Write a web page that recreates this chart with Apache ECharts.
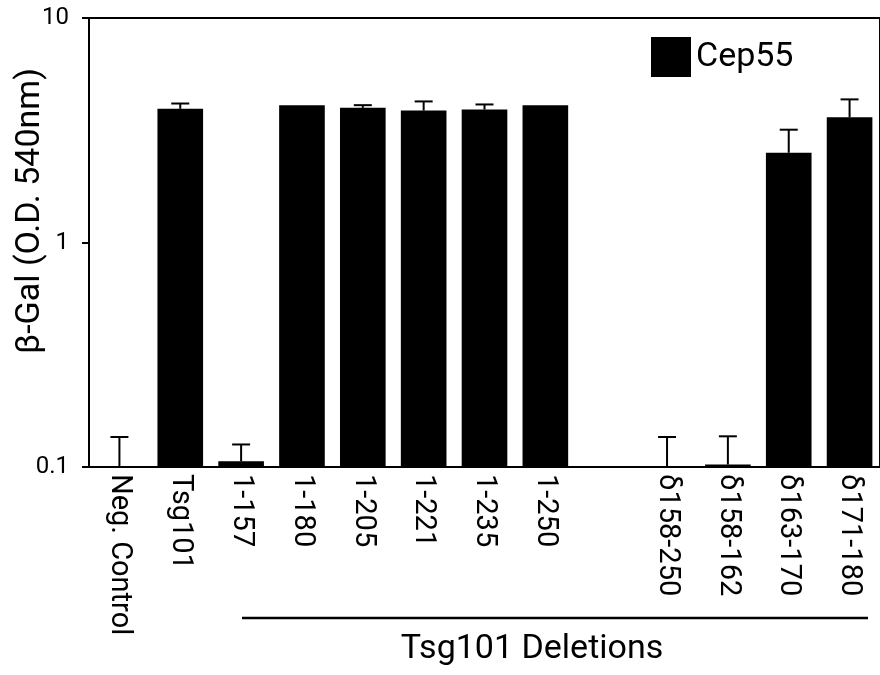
<!DOCTYPE html>
<html><head><meta charset="utf-8">
<script src="https://cdn.jsdelivr.net/npm/echarts@6/dist/echarts.min.js"></script>
<style>html,body{margin:0;padding:0;background:#fff}#c{width:880px;height:675px}</style>
</head><body><div id="c"></div>
<script>
const categories = ['Neg. Control','Tsg101','1-157','1-180','1-205','1-221','1-235','1-250','','δ158-250','δ158-162','δ163-170','δ171-180'];
const cep55 = [0.1, 3.94, 0.106, 4.09, 3.98, 3.87, 3.91, 4.09, null, 0.1, 0.1025, 2.51, 3.61];
const cep55Upper = [0.136, 4.16, 0.126, null, 4.09, 4.25, 4.12, null, null, 0.136, 0.137, 3.18, 4.34];
const yMin = 0.1, yMax = 10;
const seriesName = 'Cep55';
const yTitle = 'β-Gal (O.D. 540nm)';
const groupTitle = 'Tsg101 Deletions';

const FONT = 'Roboto';
const chart = echarts.init(document.getElementById('c'), null, {renderer: 'canvas'});

const barData = cep55.map((v, i) => [i, v]);
const errData = cep55.map((v, i) => [i, v, cep55Upper[i]]).filter(d => d[1] != null && d[2] != null);

chart.setOption({
  animation: false,
  color: ['#000'],
  grid: {left: 89, top: 18, width: 796, height: 449, show: true, borderColor: '#000', borderWidth: 2, backgroundColor: 'transparent'},
  legend: {
    data: [seriesName], left: 651, top: 37, padding: 0, icon: 'rect', itemWidth: 40, itemHeight: 40, itemGap: 5,
    textStyle: {fontFamily: FONT, fontSize: 34, color: '#000'}
  },
  xAxis: {
    type: 'category', data: categories,
    axisLine: {lineStyle: {color: '#000', width: 2}},
    axisTick: {length: 9, lineStyle: {color: '#000', width: 2}},
    axisLabel: {rotate: -90, interval: 0, fontFamily: FONT, fontSize: 29, color: '#000', margin: 7}
  },
  yAxis: {
    type: 'log', logBase: 10, min: yMin, max: yMax,
    axisLine: {show: true, lineStyle: {color: '#000', width: 2}},
    axisTick: {show: true, length: 7, lineStyle: {color: '#000', width: 2}},
    splitLine: {show: false},
    minorTick: {show: false},
    axisLabel: {fontFamily: FONT, fontSize: 24, color: '#000', margin: 20,
      formatter: v => String(parseFloat(Number(v).toPrecision(3)))}
  },
  series: [
    {
      name: seriesName, type: 'custom', itemStyle: {color: '#000'},
      data: barData, encode: {x: 0, y: 1},
      renderItem: function (params, api) {
        const v = api.value(1);
        if (v == null || isNaN(v)) return null;
        const i = api.value(0);
        const top = api.coord([i, v]);
        const base = api.coord([i, yMin]);
        const w = api.size([1, 1])[0] * 0.75;
        return {type: 'rect', shape: {x: top[0] - w / 2, y: top[1], width: w, height: base[1] - top[1]}, style: {fill: '#000'}};
      }
    },
    {
      name: 'err', type: 'custom', data: errData, encode: {x: 0, y: [1, 2]}, z: 3,
      renderItem: function (params, api) {
        const i = api.value(0);
        const p0 = api.coord([i, api.value(1)]);
        const p1 = api.coord([i, api.value(2)]);
        const cw = 9;
        return {type: 'group', children: [
          {type: 'line', shape: {x1: p0[0], y1: p0[1], x2: p1[0], y2: p1[1]}, style: {stroke: '#000', lineWidth: 2}},
          {type: 'line', shape: {x1: p1[0] - cw, y1: p1[1], x2: p1[0] + cw, y2: p1[1]}, style: {stroke: '#000', lineWidth: 2}}
        ]};
      }
    }
  ],
  graphic: [
    {type: 'text', x: 30, y: 211, rotation: Math.PI / 2,
      style: {text: yTitle, fontFamily: FONT, fontSize: 34, fill: '#000', textAlign: 'center', textVerticalAlign: 'middle'}},
    {type: 'line', shape: {x1: 242, y1: 618, x2: 868, y2: 618}, style: {stroke: '#000', lineWidth: 2.5}},
    {type: 'text', x: 532, y: 649,
      style: {text: groupTitle, fontFamily: FONT, fontSize: 34, fill: '#000', textAlign: 'center', textVerticalAlign: 'middle'}}
  ]
});
</script></body></html>
